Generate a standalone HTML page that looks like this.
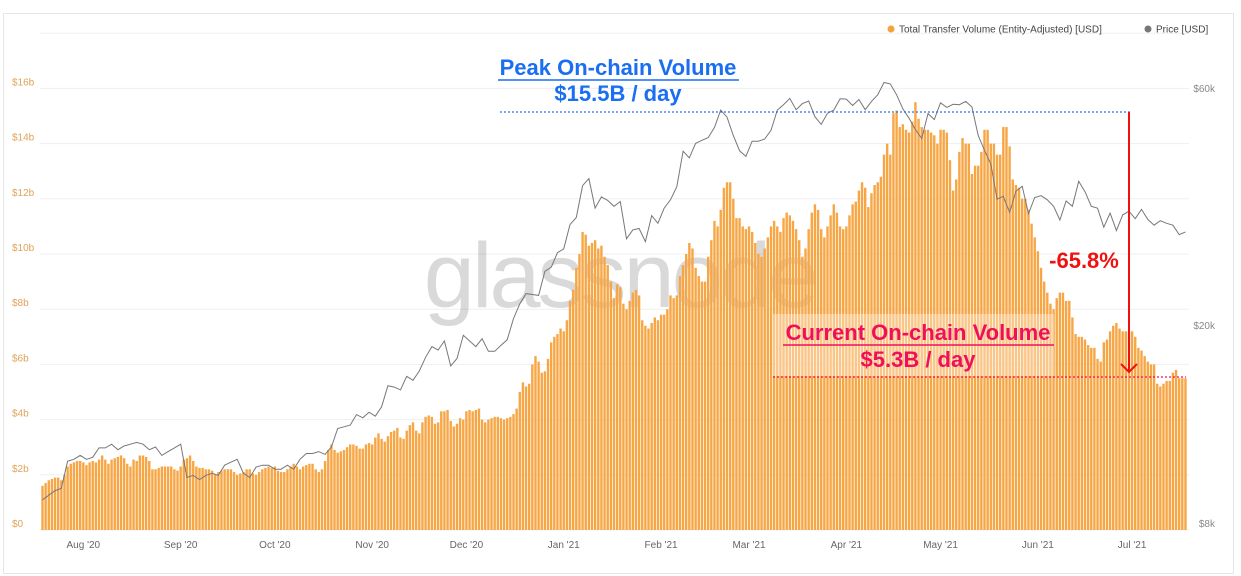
<!DOCTYPE html>
<html><head><meta charset="utf-8">
<style>
html,body{margin:0;padding:0;background:#fff;width:1241px;height:576px;overflow:hidden}
svg text{font-family:"Liberation Sans",sans-serif}
</style></head>
<body>
<svg id="chart" width="1241" height="576" viewBox="0 0 1241 576" xmlns="http://www.w3.org/2000/svg">
<rect x="3.5" y="13.5" width="1230" height="560" fill="#fff" stroke="#e6e6e6"/>
<g id="grid"></g>
<g id="yleft"></g>
<g id="yright"></g>
<g id="xaxis"></g>
<text x="620" y="307" text-anchor="middle" font-size="92" fill="#000" fill-opacity="0.15" letter-spacing="-3">glassnode</text>
<g id="bars"></g>
<path id="priceLine" fill="none" stroke="#777" stroke-width="1"/>
<g>
<circle cx="891" cy="29" r="3.5" fill="#f6a23a"/>
<text x="899" y="32.5" font-size="10" fill="#444">Total Transfer Volume (Entity-Adjusted) [USD]</text>
<circle cx="1148" cy="29" r="3.5" fill="#777"/>
<text x="1156" y="32.5" font-size="10" fill="#444">Price [USD]</text>
</g>
<g>
<text x="618" y="75" text-anchor="middle" font-size="22" font-weight="bold" fill="#1a6ef2">Peak On-chain Volume</text>
<line x1="498" y1="80" x2="739" y2="80" stroke="#1a6ef2" stroke-width="1.5"/>
<text x="618" y="101" text-anchor="middle" font-size="22" font-weight="bold" fill="#1a6ef2">$15.5B / day</text>
<line id="peakLine" x1="500" x2="1130" y1="112" y2="112" stroke="#2a72f0" stroke-width="1.3" stroke-dasharray="2,2"/>
</g>
<g>
<rect x="773" y="314" width="281" height="62" fill="#fff" fill-opacity="0.35"/>
<text x="918" y="340" text-anchor="middle" font-size="22" font-weight="bold" fill="#f0105a">Current On-chain Volume</text>
<line x1="783" y1="345" x2="1054" y2="345" stroke="#f0105a" stroke-width="1.5"/>
<text x="918" y="367" text-anchor="middle" font-size="22" font-weight="bold" fill="#f0105a">$5.3B / day</text>
<line id="curLine" x1="773" x2="1186" y1="377" y2="377" stroke="#f0105a" stroke-width="1.2" stroke-dasharray="2,2"/>
</g>
<g>
<line id="dropArrow" x1="1129" x2="1129" y1="112" y2="372" stroke="#f01010" stroke-width="2"/>
<path id="dropHead" d="M1121,364L1129,372L1137,364" fill="none" stroke="#f01010" stroke-width="2"/>
<text x="1084" y="268" text-anchor="middle" font-size="22" font-weight="bold" fill="#f01010">-65.8%</text>
</g>
</svg>
<script>
const volume = [
1.6,1.7,1.8,1.85,1.9,1.9,1.8,2.0,2.3,2.4,2.45,2.5,2.5,
2.45,2.35,2.45,2.5,2.45,2.55,2.7,2.55,2.4,2.55,2.6,2.65,2.7,2.6,2.4,2.3,2.55,2.5,2.7,2.7,2.65,2.5,2.2,2.2,2.25,2.3,2.3,2.3,2.3,2.2,2.15,
2.3,2.55,2.6,2.7,2.5,2.3,2.25,2.25,2.2,2.2,2.15,2.0,2.1,2.15,2.2,2.2,2.2,2.1,2.0,2.05,2.1,2.2,2.2,2.05,2.0,2.1,2.2,2.25,2.3,2.25,
2.3,2.15,2.1,2.1,2.2,2.3,2.4,2.3,2.2,2.3,2.35,2.4,2.4,2.2,2.1,2.2,2.5,2.9,3.1,2.9,2.8,2.85,2.9,3.0,3.1,3.1,3.05,2.95,2.95,3.1,3.15,
3.1,3.35,3.5,3.3,3.2,3.4,3.55,3.6,3.7,3.35,3.3,3.6,3.8,3.9,3.6,3.5,3.9,4.1,4.15,4.1,3.85,3.9,4.3,4.3,4.35,3.95,3.75,3.85,4.05,4.0,
4.3,4.35,4.3,4.35,4.4,4.0,3.9,4.0,4.05,4.1,4.1,4.05,4.0,4.05,4.1,4.2,4.4,5.0,5.35,5.2,5.3,6.0,6.3,6.1,5.7,5.75,6.2,6.8,7.0,7.1,7.3,
7.2,7.6,8.3,8.7,9.5,10.0,10.8,10.7,10.3,10.4,10.5,10.2,10.3,9.9,9.6,9.0,8.4,8.9,8.8,8.2,8.0,8.3,8.6,8.7,8.5,7.6,7.4,7.3,7.5,7.7,7.6,
7.8,7.8,8.0,8.5,8.4,8.5,9.2,9.6,10.0,10.4,10.2,9.5,9.2,9.0,9.0,9.9,10.5,11.2,11.0,11.6,12.4,12.6,12.6,12.0,11.3,11.3,11.0,10.9,
11.0,10.8,10.4,10.0,9.9,10.2,10.6,11.0,11.2,11.0,10.8,11.3,11.5,11.4,11.2,10.9,10.5,9.9,10.2,10.9,11.5,11.8,11.6,10.9,10.6,11.0,11.4,11.8,11.5,11.0,10.9,
11.0,11.4,11.8,11.9,12.3,12.6,12.4,11.7,12.2,12.5,12.6,12.8,13.6,14.0,13.6,15.1,15.2,14.6,14.7,14.5,14.4,14.8,15.5,14.9,14.6,14.5,14.5,14.4,14.3,14.0,
14.5,14.5,14.4,13.4,12.3,12.7,13.7,14.2,14.0,14.0,12.9,13.2,13.2,13.7,14.5,14.5,14.0,14.0,13.6,13.6,14.6,14.6,13.9,12.7,12.5,12.4,12.0,12.0,11.6,11.1,10.6,
10.1,9.5,9.0,8.6,8.2,8.0,8.4,8.6,8.6,8.3,8.3,7.7,7.1,7.0,7.0,6.9,6.7,6.6,6.6,6.2,6.1,6.8,6.9,7.2,7.4,7.5,7.3,7.2,7.2,7.2,
7.2,7.0,6.6,6.5,6.3,6.1,6.0,6.0,5.3,5.2,5.3,5.4,5.4,5.7,5.8,5.5,5.5,5.5
];
// BTC price (k USD), one value every 2 days from Jul 19 2020
const price = [
9.2,9.4,9.6,9.7,11.0,11.1,11.3,11.1,11.2,11.7,11.7,11.9,11.6,11.8,11.9,12.0,11.9,11.6,11.75,11.3,11.5,11.7,
11.9,10.2,10.3,10.1,10.3,10.4,10.3,10.8,10.95,11.1,10.4,10.2,10.7,10.8,10.8,
10.6,10.6,10.8,10.6,11.1,11.4,11.4,11.5,11.35,11.75,12.8,12.9,13.0,13.65,13.45,13.8,
13.55,14.15,15.6,15.5,15.3,16.3,16.0,16.7,17.8,18.7,18.4,19.2,17.1,17.7,19.7,
19.2,18.7,19.4,18.3,18.3,18.8,19.3,21.3,22.8,23.9,23.8,23.7,26.5,27.0,28.9,
29.4,32.9,34.0,39.4,40.7,35.5,37.4,36.8,35.8,36.6,30.8,32.1,32.3,30.4,34.3,33.1,
35.5,36.9,39.2,46.2,44.8,47.9,48.6,49.2,51.6,55.9,54.1,49.7,46.3,45.1,
48.4,48.4,48.9,50.9,55.9,57.3,59.0,56.0,57.6,58.3,54.2,52.3,55.1,55.9,58.9,
58.8,57.1,58.7,56.0,58.2,60.0,63.5,63.1,60.0,56.2,53.8,51.1,49.0,55.0,53.5,
57.8,56.6,57.4,57.3,58.2,56.7,49.7,46.4,43.5,37.0,37.5,34.8,38.4,39.3,34.6,37.3,
37.6,36.9,35.8,33.6,36.7,35.8,40.2,38.3,35.8,35.5,32.5,34.7,32.0,34.4,35.0,
33.8,35.3,33.7,32.8,33.5,33.1,32.8,31.4,31.8
];
const leftTicks = [0,2,4,6,8,10,12,14,16];
const leftLabels = ["$0","$2b","$4b","$6b","$8b","$10b","$12b","$14b","$16b"];
const rightTicks = [8,20,60];
const rightLabels = ["$8k","$20k","$60k"];
const monthLabels = ["Aug '20","Sep '20","Oct '20","Nov '20","Dec '20","Jan '21","Feb '21","Mar '21","Apr '21","May '21","Jun '21","Jul '21"];
const monthOffsets = [13,44,74,105,135,166,197,225,256,286,317,347];

const NS="http://www.w3.org/2000/svg";
const X0=42.5, DAY=3.14, BASE=530, PXB=27.6;
const xDay = d => X0 + d*DAY;
const yVol = v => BASE - v*PXB;
const yPrice = p => BASE - 216*Math.log(p/8);
function mk(tag, attrs, parent){const e=document.createElementNS(NS,tag);for(const k in attrs)e.setAttribute(k,attrs[k]);parent.appendChild(e);return e;}

const grid=document.getElementById('grid');
for(let v=0; v<=18; v+=2){
  const l=mk('line',{x1:40,x2:1189,y1:yVol(v),y2:yVol(v),stroke:'#efefef','stroke-width':1},grid);
  
  
}
const yl=document.getElementById('yleft');
leftTicks.forEach((v,i)=>{
  const t=mk('text',{x:12,y:yVol(v)-3,'font-size':10,fill:'#e0a35a'},yl);
  t.textContent=leftLabels[i];
  
  
});
const yr=document.getElementById('yright');
rightTicks.forEach((v,i)=>{
  const t=mk('text',{x:1215,y:yPrice(v)-3,'font-size':10,fill:'#888','text-anchor':'end'},yr);
  t.textContent=rightLabels[i];
  
  
});
const xa=document.getElementById('xaxis');
monthLabels.forEach((m,i)=>{
  const t=mk('text',{x:xDay(monthOffsets[i]),y:548,'font-size':10,fill:'#666','text-anchor':'middle'},xa);
  t.textContent=m;
  
  
});
const bars=document.getElementById('bars');
volume.forEach((v,i)=>{
  const r=mk('rect',{x:xDay(i)-1.2,y:yVol(v),width:2.4,height:BASE-yVol(v),fill:'#f7a645'},bars);
  
  
});
let d='';
price.forEach((p,i)=>{d+=(i?'L':'M')+xDay(i*2).toFixed(1)+','+yPrice(p).toFixed(1);});
document.getElementById('priceLine').setAttribute('d',d);
</script>
</body></html>
